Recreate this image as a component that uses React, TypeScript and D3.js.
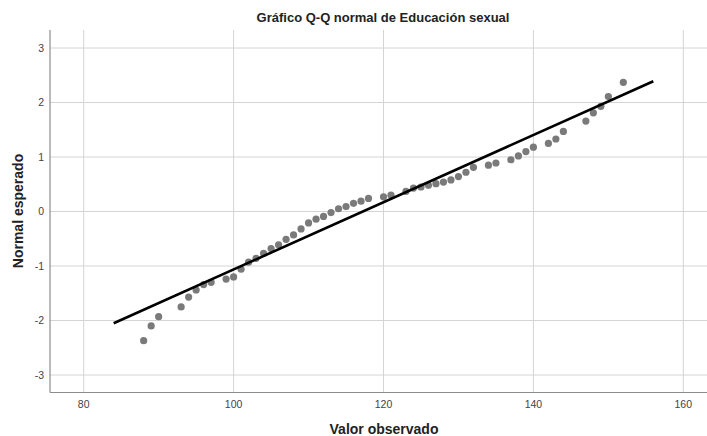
import React from "react";
import * as d3 from "d3";

const observed = [88, 89, 90, 93, 94, 95, 96, 97, 99, 100, 101, 102, 103, 104, 105, 106,
  107, 108, 109, 110, 111, 112, 113, 114, 115, 116, 117, 118, 120, 121, 123, 124, 125, 126,
  127, 128, 129, 130, 131, 132, 134, 135, 137, 138, 139, 140, 142, 143, 144, 147, 148, 149, 150, 152];
const expected = [-2.37, -2.1, -1.93, -1.75, -1.57, -1.44, -1.34, -1.3, -1.24, -1.2, -1.06, -0.93, -0.86, -0.77, -0.68, -0.61,
  -0.51, -0.43, -0.32, -0.21, -0.14, -0.09, -0.02, 0.05, 0.09, 0.15, 0.19, 0.24, 0.27, 0.3, 0.37, 0.43, 0.45, 0.48,
  0.51, 0.54, 0.58, 0.64, 0.72, 0.81, 0.85, 0.89, 0.95, 1.02, 1.1, 1.18, 1.25, 1.33, 1.47, 1.66, 1.81, 1.93, 2.11, 2.37];
const lineX = [84, 156];
const lineZ = [-2.05, 2.39];
const xTicks = [80, 100, 120, 140, 160];
const yTicks = [-3, -2, -1, 0, 1, 2, 3];

export default function App() {
  const W = 707, H = 436;
  const left = 50, right = 707, top = 30, bottom = 392.5;
  const x = d3.scaleLinear().domain([80, 160]).range([83.7, 683.3]);
  const y = d3.scaleLinear().domain([-3, 3]).range([375, 48]);
  const line = d3.line<number>().x((d) => x(lineX[d])).y((d) => y(lineZ[d]));
  const font = "'Liberation Sans', Arial, sans-serif";
  return (
    <svg width={W} height={H} style={{ position: "absolute", left: 0, top: 0, background: "#fff" }} fontFamily={font}>
      <rect x={0} y={0} width={W} height={H} fill="#fff" />
      {xTicks.map((t) => (
        <line key={"gx" + t} x1={x(t)} x2={x(t)} y1={top} y2={bottom} stroke="#d4d4d4" strokeWidth={1} />
      ))}
      {yTicks.map((t) => (
        <line key={"gy" + t} x1={left} x2={right} y1={y(t)} y2={y(t)} stroke="#d4d4d4" strokeWidth={1} />
      ))}
      <line x1={left} x2={left} y1={top} y2={bottom} stroke="#8c8c8c" strokeWidth={1.2} />
      <line x1={left} x2={right} y1={bottom} y2={bottom} stroke="#8c8c8c" strokeWidth={1.2} />
      {yTicks.map((t) => (
        <text key={"ty" + t} x={44} y={y(t)} dy="0.35em" textAnchor="end" fontSize={10.5} fill="#444">{t}</text>
      ))}
      {xTicks.map((t) => (
        <text key={"tx" + t} x={x(t)} y={404} dy="0.35em" textAnchor="middle" fontSize={10.5} fill="#444">{t}</text>
      ))}
      {observed.map((v, i) => (
        <circle key={"p" + i} cx={x(v)} cy={y(expected[i])} r={3.6} fill="#7a7a7a" />
      ))}
      <path d={line([0, 1]) || ""} stroke="#000" strokeWidth={2.6} fill="none" />
      <text x={383} y={17} dy="0.35em" textAnchor="middle" fontSize={13} fontWeight="bold" fill="#222">Gráfico Q-Q normal de Educación sexual</text>
      <text x={384} y={429} dy="0.35em" textAnchor="middle" fontSize={14} fontWeight="bold" fill="#222">Valor observado</text>
      <text transform={`translate(18,211) rotate(-90)`} dy="0.35em" textAnchor="middle" fontSize={14} fontWeight="bold" fill="#222">Normal esperado</text>
    </svg>
  );
}
